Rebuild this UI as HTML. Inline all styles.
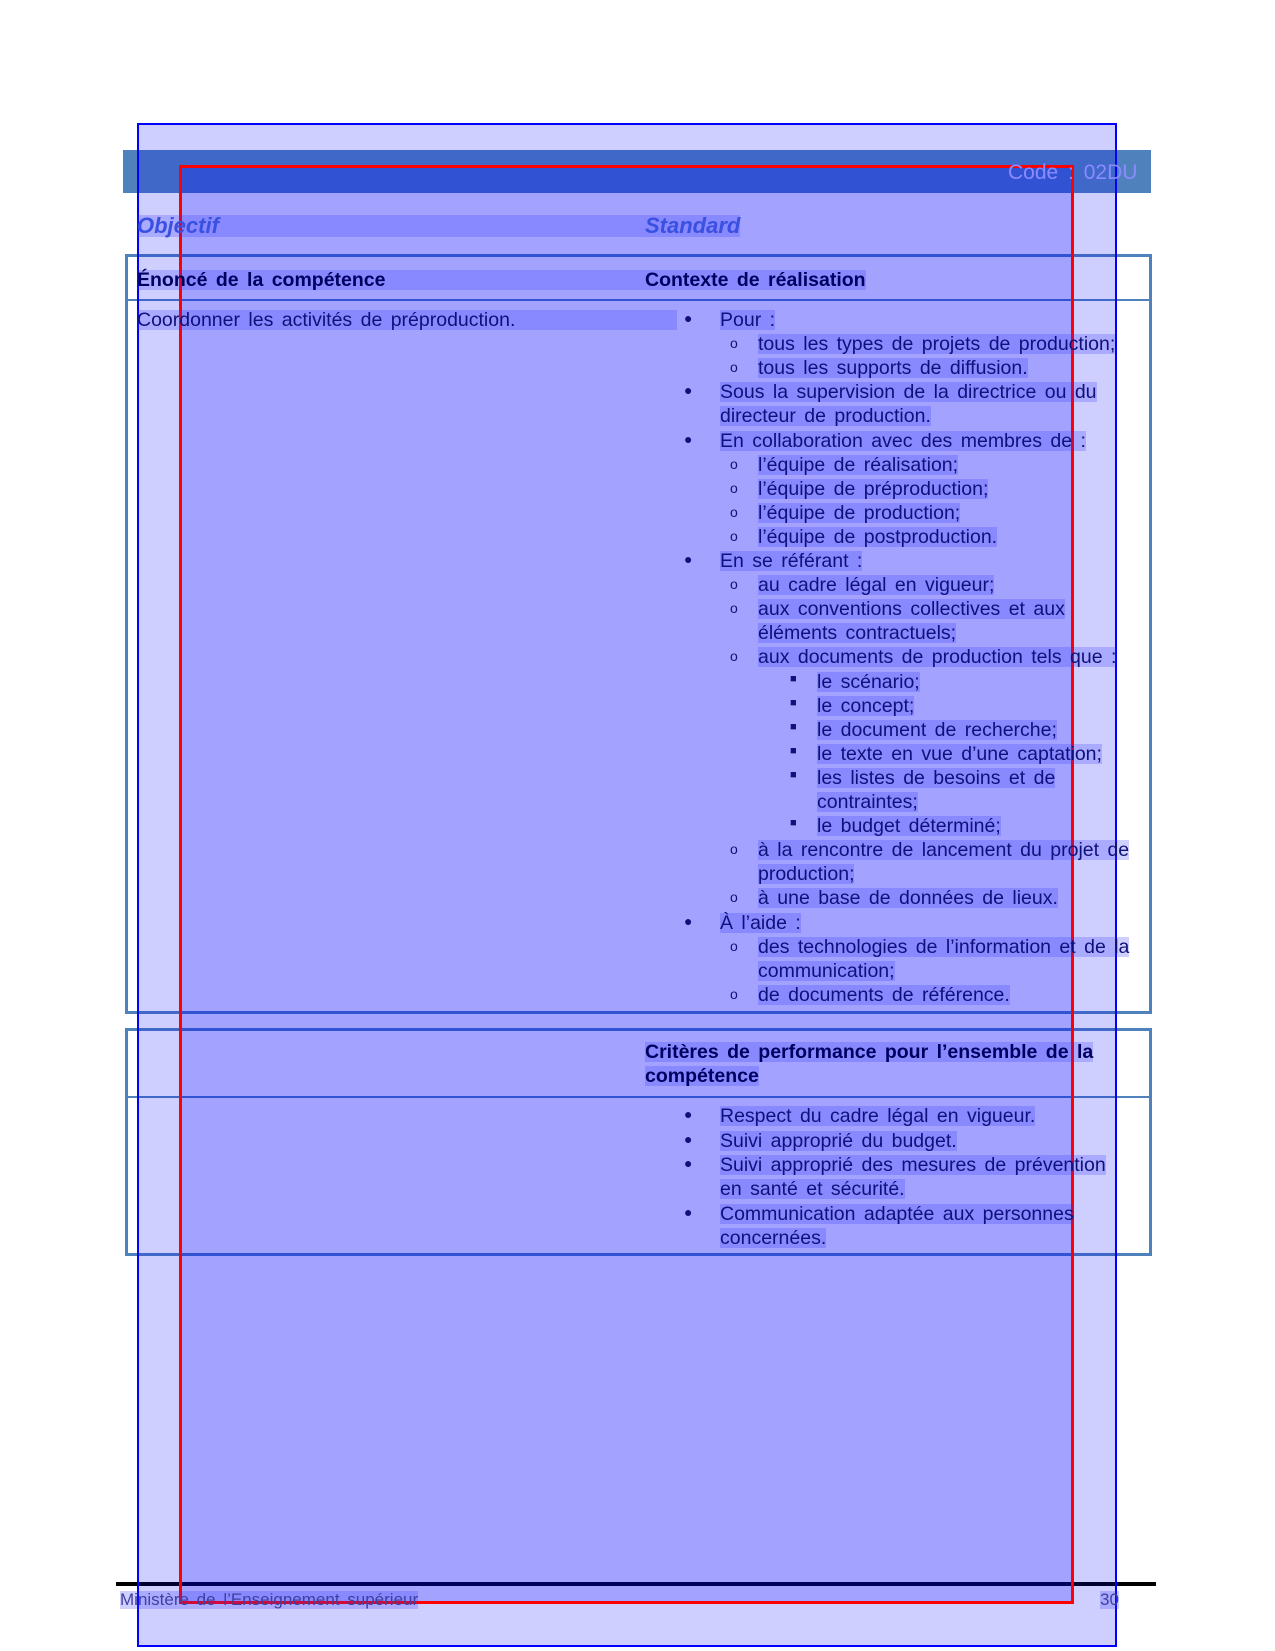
<!DOCTYPE html>
<html><head><meta charset="utf-8"><style>
body{margin:0;width:1275px;height:1651px;position:relative;background:#fff;font-family:"Liberation Sans",sans-serif;overflow:hidden}
.a{position:absolute}
.t{position:absolute;font-size:19.5px;line-height:20px;color:#10107a;white-space:nowrap;background:rgba(40,40,255,0.22);word-spacing:3px}
.b{font-weight:bold}
.bl{position:absolute;font-size:14px;color:#10107a}
</style></head><body>
<div class="a" style="left:123px;top:150px;width:1028px;height:43px;background:#4f81bd"></div>
<div class="a" style="left:125px;top:254px;width:1021px;height:754px;border:3px solid #4f81bd"></div>
<div class="a" style="left:128px;top:299px;width:1021px;height:2px;background:#4f81bd"></div>
<div class="a" style="left:125px;top:1028px;width:1021px;height:222px;border:3px solid #4f81bd"></div>
<div class="a" style="left:128px;top:1096px;width:1021px;height:2px;background:#4f81bd"></div>
<div class="a" style="left:116px;top:1582px;width:1040px;height:4px;background:#000"></div>

<div class="a" style="left:137px;top:123px;width:980px;height:1524px;background:rgba(0,0,255,0.19);border:2px solid #0000ff;box-sizing:border-box"></div>
<div class="a" style="left:179px;top:165px;width:895px;height:1439px;background:rgba(0,0,255,0.21);border:3px solid #ff0000;box-sizing:border-box"></div>

<div class="t" style="left:1008px;top:162px;font-size:21px;line-height:22px;color:#8b8bff;background:none;word-spacing:4px">Code : 02DU</div>
<div class="t b" style="left:137px;top:215px;font-style:italic;font-size:22px;line-height:22px;color:#3a50e0;width:508px">Objectif</div>
<div class="t b" style="left:645px;top:215px;font-style:italic;font-size:22px;line-height:22px;color:#3a50e0">Standard</div>
<div class="t b" style="left:137px;top:270px;width:508px;color:#000060">Énoncé de la compétence</div>
<div class="t b" style="left:645px;top:270px;color:#000060">Contexte de réalisation</div>
<div class="t" style="left:137px;top:310px;width:540px">Coordonner les activités de préproduction.</div>

<div id="c"></div>

<div class="t b" style="left:645px;top:1042px;color:#000060">Critères de performance pour l’ensemble de la</div>
<div class="t b" style="left:645px;top:1066px;color:#000060">compétence</div>

<div class="t" style="left:120px;top:1591px;font-size:17px;line-height:18px;color:#4040a0">Ministère de l’Enseignement supérieur</div>
<div class="t" style="left:1100px;top:1591px;font-size:17px;line-height:18px;color:#4040a0">30</div>

<script>
var L=[
[0,"Pour :"],[1,"tous les types de projets de production;"],[1,"tous les supports de diffusion."],
[0,"Sous la supervision de la directrice ou du"],[3,"directeur de production."],
[0,"En collaboration avec des membres de :"],[1,"l’équipe de réalisation;"],[1,"l’équipe de préproduction;"],[1,"l’équipe de production;"],[1,"l’équipe de postproduction."],
[0,"En se référant :"],[1,"au cadre légal en vigueur;"],[1,"aux conventions collectives et aux"],[4,"éléments contractuels;"],[1,"aux documents de production tels que :"],
[2,"le scénario;"],[2,"le concept;"],[2,"le document de recherche;"],[2,"le texte en vue d’une captation;"],[2,"les listes de besoins et de"],[5,"contraintes;"],[2,"le budget déterminé;"],
[1,"à la rencontre de lancement du projet de"],[4,"production;"],[1,"à une base de données de lieux."],
[0,"À l’aide :"],[1,"des technologies de l’information et de la"],[4,"communication;"],[1,"de documents de référence."]];
var h="";
function row(lv,s,y){
 var tx={0:720,1:758,2:817,3:720,4:758,5:817}[lv];
 if(lv==0)h+='<div class="bl" style="left:684px;top:'+(y-2)+'px">●</div>';
 if(lv==1)h+='<div class="bl" style="left:730px;top:'+(y-1)+'px">o</div>';
 if(lv==2)h+='<div class="bl" style="left:790px;top:'+(y-1)+'px;font-size:11px">■</div>';
 h+='<div class="t" style="left:'+tx+'px;top:'+(y-2)+'px">'+s+'</div>';
}
for(var i=0;i<L.length;i++){row(L[i][0],L[i][1],312+Math.round(i*24.1));}
var C=[[0,"Respect du cadre légal en vigueur.",1108],[0,"Suivi approprié du budget.",1133],[0,"Suivi approprié des mesures de prévention",1157],[3,"en santé et sécurité.",1181],[0,"Communication adaptée aux personnes",1206],[3,"concernées.",1230]];
for(var j=0;j<C.length;j++)row(C[j][0],C[j][1],C[j][2]);
document.getElementById("c").innerHTML=h;
</script>
</body></html>
